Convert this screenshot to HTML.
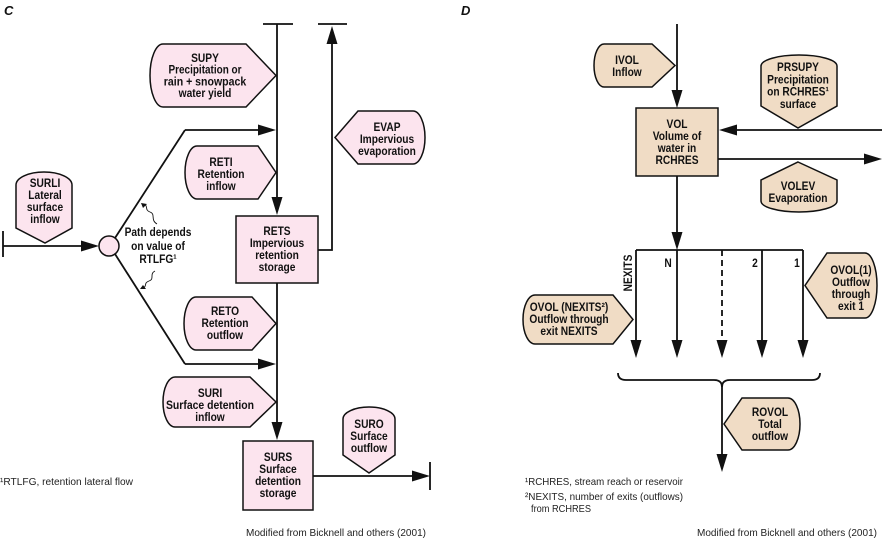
<!DOCTYPE html>
<html><head><meta charset="utf-8"><style>
html,body{margin:0;padding:0;background:#fff;}
svg{display:block;}
.b{font-family:"Liberation Sans Narrow","Liberation Sans",sans-serif;font-weight:bold;font-size:12px;fill:#111;text-anchor:middle;}
.r{font-family:"Liberation Sans Narrow","Liberation Sans",sans-serif;font-size:10.5px;fill:#222;}
.pk{fill:#fce4ee;stroke:#111;stroke-width:1.5;}
.tn{fill:#f0dcc5;stroke:#111;stroke-width:1.5;}
.ln{stroke:#111;stroke-width:1.8;fill:none;}
.ah{fill:#111;stroke:none;}
</style></head><body>
<svg width="882" height="541" viewBox="0 0 882 541" xmlns="http://www.w3.org/2000/svg">
<!-- Panel C -->
<text x="4" y="15" style="font-family:'Liberation Sans',sans-serif;font-weight:bold;font-style:italic;font-size:13px;fill:#111">C</text>

<path class="ln" d="M263,24 L293,24 M277,24 L277,200"/>
<path class="ln" d="M318,24 L347,24 M332,40 L332,250 L318,250"/>
<path class="ln" d="M277,283 L277,425"/>
<path class="ln" d="M185,130 L262,130 M185,364 L262,364"/>
<path class="ln" d="M115,238 L185,130 M115,254 L185,364"/>
<path class="ln" d="M3,231 L3,257 M3,246 L85,246"/>
<path class="ln" d="M313,476 L415,476 M430,462 L430,490"/>

<path class="ah" d="M258,124.5 L276,130 L258,135.5Z"/>
<path class="ah" d="M258,358.5 L276,364 L258,369.5Z"/>
<path class="ah" d="M271.5,197 L277,215 L282.5,197Z"/>
<path class="ah" d="M271.5,422 L277,440 L282.5,422Z"/>
<path class="ah" d="M326.5,44 L332,26 L337.5,44Z"/>
<path class="ah" d="M81,240.5 L99,246 L81,251.5Z"/>
<path class="ah" d="M412,470.5 L430,476 L412,481.5Z"/>

<path d="M157,224 C150,220 156,214 150,212 C144,210 149,205 143,204" stroke="#111" stroke-width="0.9" fill="none"/>
<path d="M141,203 L147,204 L143,208Z" class="ah"/>
<path d="M155,271 C149,274 155,279 149,281 C143,283 148,287 142,288" stroke="#111" stroke-width="0.9" fill="none"/>
<path d="M140,289 L146,289 L143,285Z" class="ah"/>

<circle cx="109" cy="246" r="10" class="pk"/>

<path class="pk" d="M163,44 L246,44 L276,75.5 L246,107 L163,107 A13,31.5 0 0 1 163,44 Z"/>
<path class="pk" d="M197,146 L258,146 L276,172.5 L258,199 L197,199 A12,26.5 0 0 1 197,146 Z"/>
<path class="pk" d="M196,297 L252,297 L276,323.5 L252,350 L196,350 A12,26.5 0 0 1 196,297 Z"/>
<path class="pk" d="M175,377 L250,377 L276,402 L250,427 L175,427 A12,25 0 0 1 175,377 Z"/>
<path class="pk" d="M358,111 L413,111 A12,26.5 0 0 1 413,164 L358,164 L335,137.5 Z"/>
<path class="pk" d="M16,228 L16,185 A28,13 0 0 1 72,185 L72,228 L45,243 Z"/>
<path class="pk" d="M343,455 L343,419 A26,12 0 0 1 395,419 L395,455 L369,473 Z"/>
<rect class="pk" x="236" y="216" width="82" height="67"/>
<rect class="pk" x="243" y="441" width="70" height="69"/>

<text class="b" transform="translate(205,62) scale(0.85,1)">SUPY</text>
<text class="b" transform="translate(205,73.7) scale(0.83,1)">Precipitation or</text>
<text class="b" transform="translate(205,85.4) scale(0.88,1)">rain + snowpack</text>
<text class="b" transform="translate(205,97) scale(0.85,1)">water yield</text>

<text class="b" transform="translate(221,166) scale(0.85,1)">RETI</text>
<text class="b" transform="translate(221,178) scale(0.85,1)">Retention</text>
<text class="b" transform="translate(221,190) scale(0.85,1)">inflow</text>

<text class="b" transform="translate(387,131) scale(0.85,1)">EVAP</text>
<text class="b" transform="translate(387,143) scale(0.85,1)">Impervious</text>
<text class="b" transform="translate(387,155) scale(0.85,1)">evaporation</text>

<text class="b" transform="translate(45,187) scale(0.85,1)">SURLI</text>
<text class="b" transform="translate(45,199) scale(0.85,1)">Lateral</text>
<text class="b" transform="translate(45,211) scale(0.85,1)">surface</text>
<text class="b" transform="translate(45,223) scale(0.85,1)">inflow</text>

<text class="b" transform="translate(158,236) scale(0.85,1)">Path depends</text>
<text class="b" transform="translate(158,250) scale(0.85,1)">on value of</text>
<text class="b" transform="translate(158,263) scale(0.85,1)">RTLFG¹</text>

<text class="b" transform="translate(277,235) scale(0.85,1)">RETS</text>
<text class="b" transform="translate(277,247) scale(0.85,1)">Impervious</text>
<text class="b" transform="translate(277,259) scale(0.85,1)">retention</text>
<text class="b" transform="translate(277,271) scale(0.85,1)">storage</text>

<text class="b" transform="translate(225,315) scale(0.85,1)">RETO</text>
<text class="b" transform="translate(225,327) scale(0.85,1)">Retention</text>
<text class="b" transform="translate(225,339) scale(0.85,1)">outflow</text>

<text class="b" transform="translate(210,397) scale(0.85,1)">SURI</text>
<text class="b" transform="translate(210,409) scale(0.87,1)">Surface detention</text>
<text class="b" transform="translate(210,421) scale(0.85,1)">inflow</text>

<text class="b" transform="translate(278,461) scale(0.85,1)">SURS</text>
<text class="b" transform="translate(278,473) scale(0.85,1)">Surface</text>
<text class="b" transform="translate(278,485) scale(0.85,1)">detention</text>
<text class="b" transform="translate(278,497) scale(0.85,1)">storage</text>

<text class="b" transform="translate(369,428) scale(0.85,1)">SURO</text>
<text class="b" transform="translate(369,440) scale(0.85,1)">Surface</text>
<text class="b" transform="translate(369,452) scale(0.85,1)">outflow</text>

<text class="r" x="0" y="485" textLength="133" lengthAdjust="spacingAndGlyphs">¹RTLFG, retention lateral flow</text>
<text class="r" x="246" y="536" textLength="180" lengthAdjust="spacingAndGlyphs">Modified from Bicknell and others (2001)</text>

<!-- Panel D -->
<text x="461" y="15" style="font-family:'Liberation Sans',sans-serif;font-weight:bold;font-style:italic;font-size:13px;fill:#111">D</text>

<path class="ln" d="M677,24 L677,92"/>
<path class="ln" d="M677,176 L677,234"/>
<path class="ln" d="M636,250 L803,250"/>
<path class="ln" d="M636,250 L636,342 M677,250 L677,342 M762,250 L762,342 M803,250 L803,342"/>
<path class="ln" d="M722,250 L722,342" stroke-dasharray="6,4"/>
<path class="ln" d="M882,130 L735,130 M718,159 L866,159"/>
<path class="ln" d="M618,373 Q618,380 626,380 L714,380 Q722,380 722,387 Q722,380 730,380 L812,380 Q820,380 820,373"/>
<path class="ln" d="M722,386 L722,456"/>

<path class="ah" d="M671.5,90 L677,108 L682.5,90Z"/>
<path class="ah" d="M671.5,232 L677,250 L682.5,232Z"/>
<path class="ah" d="M630.5,340 L636,358 L641.5,340Z"/>
<path class="ah" d="M671.5,340 L677,358 L682.5,340Z"/>
<path class="ah" d="M716.5,340 L722,358 L727.5,340Z"/>
<path class="ah" d="M756.5,340 L762,358 L767.5,340Z"/>
<path class="ah" d="M797.5,340 L803,358 L808.5,340Z"/>
<path class="ah" d="M737,124.5 L719,130 L737,135.5Z"/>
<path class="ah" d="M864,153.5 L882,159 L864,164.5Z"/>
<path class="ah" d="M716.5,454 L722,472 L727.5,454Z"/>

<path class="tn" d="M604,44 L652,44 L675,65.5 L652,87 L604,87 A10,21.5 0 0 1 604,44 Z"/>
<rect class="tn" x="636" y="108" width="82" height="68"/>
<path class="tn" d="M761,106 L761,66 A38,11 0 0 1 837,66 L837,106 L798,128 Z"/>
<path class="tn" d="M798,162 L837,180 L837,201 A38,11 0 0 1 761,201 L761,180 Z"/>
<path class="tn" d="M535,295 L613,295 L633,319.5 L613,344 L535,344 A12,24.5 0 0 1 535,295 Z"/>
<path class="tn" d="M827,253 L865,253 A12,32.5 0 0 1 865,318 L827,318 L805,285.5 Z"/>
<path class="tn" d="M742,398 L788,398 A12,26 0 0 1 788,450 L742,450 L724,424 Z"/>

<text class="b" transform="translate(627,64) scale(0.85,1)">IVOL</text>
<text class="b" transform="translate(627,76) scale(0.85,1)">Inflow</text>

<text class="b" transform="translate(677,128) scale(0.85,1)">VOL</text>
<text class="b" transform="translate(677,140) scale(0.85,1)">Volume of</text>
<text class="b" transform="translate(677,152) scale(0.85,1)">water in</text>
<text class="b" transform="translate(677,164) scale(0.85,1)">RCHRES</text>

<text class="b" transform="translate(798,71) scale(0.85,1)">PRSUPY</text>
<text class="b" transform="translate(798,83.3) scale(0.85,1)">Precipitation</text>
<text class="b" transform="translate(798,95.6) scale(0.85,1)">on RCHRES¹</text>
<text class="b" transform="translate(798,108) scale(0.85,1)">surface</text>

<text class="b" transform="translate(798,190) scale(0.85,1)">VOLEV</text>
<text class="b" transform="translate(798,202) scale(0.85,1)">Evaporation</text>

<text class="b" transform="translate(668,267) scale(0.85,1)">N</text>
<text class="b" transform="translate(755,267) scale(0.85,1)">2</text>
<text class="b" transform="translate(797,267) scale(0.85,1)">1</text>
<text class="b" transform="translate(632,273) rotate(-90) scale(0.85,1)">NEXITS</text>

<text class="b" transform="translate(569,311) scale(0.85,1)">OVOL (NEXITS²)</text>
<text class="b" transform="translate(569,323) scale(0.85,1)">Outflow through</text>
<text class="b" transform="translate(569,335) scale(0.85,1)">exit NEXITS</text>

<text class="b" transform="translate(851,274) scale(0.85,1)">OVOL(1)</text>
<text class="b" transform="translate(851,286) scale(0.85,1)">Outflow</text>
<text class="b" transform="translate(851,298) scale(0.85,1)">through</text>
<text class="b" transform="translate(851,310) scale(0.85,1)">exit 1</text>

<text class="b" transform="translate(770,416) scale(0.85,1)">ROVOL</text>
<text class="b" transform="translate(770,428) scale(0.85,1)">Total</text>
<text class="b" transform="translate(770,440) scale(0.85,1)">outflow</text>

<text class="r" x="525" y="485" textLength="158" lengthAdjust="spacingAndGlyphs">¹RCHRES, stream reach or reservoir</text>
<text class="r" x="525" y="500" textLength="158" lengthAdjust="spacingAndGlyphs">²NEXITS, number of exits (outflows)</text>
<text class="r" x="531" y="512" textLength="60" lengthAdjust="spacingAndGlyphs">from RCHRES</text>
<text class="r" x="697" y="536" textLength="180" lengthAdjust="spacingAndGlyphs">Modified from Bicknell and others (2001)</text>
</svg>
</body></html>
